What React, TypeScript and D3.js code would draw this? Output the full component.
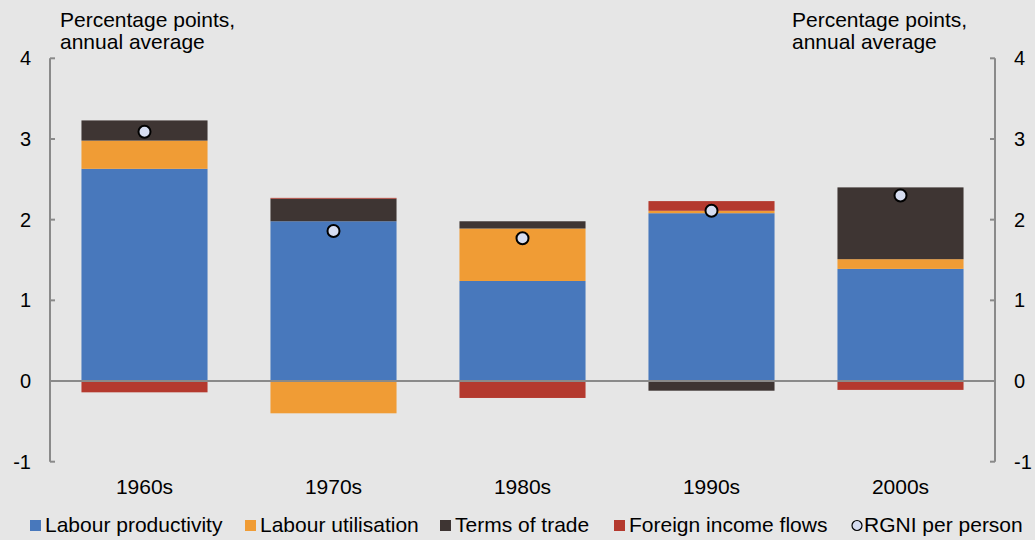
import React from "react";
import * as d3 from "d3";

const categories = ["1960s", "1970s", "1980s", "1990s", "2000s"];
const labourProductivity = [2.63, 1.98, 1.24, 2.08, 1.39];
const labourUtilisation = [0.35, -0.40, 0.65, 0.03, 0.12];
const termsOfTrade = [0.25, 0.28, 0.09, -0.12, 0.89];
const foreignIncomeFlows = [-0.14, 0.01, -0.21, 0.12, -0.11];
const rgniPerPerson = [3.09, 1.86, 1.77, 2.11, 2.30];
const yTicks = [-1, 0, 1, 2, 3, 4];

const seriesNames = ["Labour productivity", "Labour utilisation", "Terms of trade", "Foreign income flows"];
const seriesValues = [labourProductivity, labourUtilisation, termsOfTrade, foreignIncomeFlows];
const colors = ["#4878bc", "#f09c35", "#3e3533", "#b4392e"];

const W = 1035, H = 540;
const left = 50, right = 995, top = 58.3, bottom = 461.7;
const font = "Arial, 'Liberation Sans', sans-serif";

export default function App() {
  const x = d3.scaleBand().domain(categories).range([left, right]).paddingInner(0.333).paddingOuter(0.1665);
  const y = d3.scaleLinear().domain([-1, 4]).range([bottom, top]);

  const rows = categories.map((c, i) => {
    const r: any = { cat: c };
    seriesNames.forEach((s, j) => (r[s] = seriesValues[j][i]));
    return r;
  });
  const stack = d3.stack<any>().keys(seriesNames).offset(d3.stackOffsetDiverging);
  const layers = stack(rows);

  const axisColor = "#8a8a8a";
  const tickLen = 5;

  const legendItems = [
    { label: seriesNames[0], x: 30, color: colors[0] },
    { label: seriesNames[1], x: 245, color: colors[1] },
    { label: seriesNames[2], x: 440, color: colors[2] },
    { label: seriesNames[3], x: 614, color: colors[3] },
  ];

  return (
    <svg width={W} height={H} style={{ position: "absolute", left: 0, top: 0 }} fontFamily={font}>
      <rect x={0} y={0} width={W} height={H} fill="#e6e6e6" />
      {/* titles */}
      <text x={60} y={27} fontSize={21} fill="#000">Percentage points,</text>
      <text x={60} y={49} fontSize={21} fill="#000">annual average</text>
      <text x={792} y={27} fontSize={21} fill="#000">Percentage points,</text>
      <text x={792} y={49} fontSize={21} fill="#000">annual average</text>

      {/* bars */}
      {layers.map((layer, li) => (
        <g key={li} fill={colors[li]}>
          {layer.map((d, i) => {
            const y0 = y(d[0]), y1 = y(d[1]);
            return (
              <rect key={i} x={x(categories[i])} width={x.bandwidth()} y={Math.min(y0, y1)} height={Math.abs(y1 - y0)} />
            );
          })}
        </g>
      ))}

      {/* zero line */}
      <line x1={left} x2={right} y1={y(0)} y2={y(0)} stroke={axisColor} strokeWidth={2} />

      {/* axes */}
      <line x1={left} x2={left} y1={y(4)} y2={y(-1)} stroke={axisColor} strokeWidth={2} />
      <line x1={right} x2={right} y1={y(4)} y2={y(-1)} stroke={axisColor} strokeWidth={2} />
      {yTicks.map((t) => (
        <g key={t}>
          <line x1={left} x2={left + tickLen} y1={y(t)} y2={y(t)} stroke={axisColor} strokeWidth={2} />
          <line x1={right} x2={right - tickLen} y1={y(t)} y2={y(t)} stroke={axisColor} strokeWidth={2} />
          <text x={31} y={y(t)} dy="0.35em" textAnchor="end" fontSize={20} fill="#000">{t}</text>
          <text x={1014} y={y(t)} dy="0.35em" textAnchor="start" fontSize={20} fill="#000">{t}</text>
        </g>
      ))}

      {/* category labels */}
      {categories.map((c) => (
        <text key={c} x={(x(c) as number) + x.bandwidth() / 2} y={494} textAnchor="middle" fontSize={21} fill="#000">{c}</text>
      ))}

      {/* dots */}
      {rgniPerPerson.map((v, i) => (
        <circle key={i} cx={(x(categories[i]) as number) + x.bandwidth() / 2} cy={y(v)} r={6} fill="#d6ddf1" stroke="#000" strokeWidth={2} />
      ))}

      {/* legend */}
      {legendItems.map((it) => (
        <g key={it.label}>
          <rect x={it.x} y={520} width={11} height={11} fill={it.color} />
          <text x={it.x + 15} y={532} fontSize={21} fill="#000">{it.label}</text>
        </g>
      ))}
      <circle cx={857} cy={525.5} r={5} fill="#d6ddf1" stroke="#000" strokeWidth={1.2} />
      <text x={864} y={532} fontSize={21} fill="#000">RGNI per person</text>
    </svg>
  );
}
